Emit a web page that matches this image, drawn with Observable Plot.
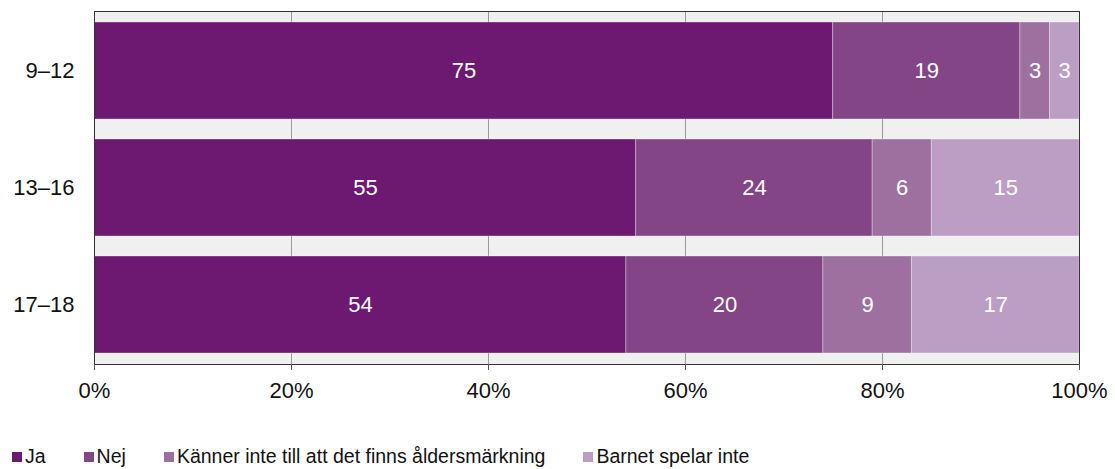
<!DOCTYPE html>
<html>
<head>
<meta charset="utf-8">
<script src="https://cdn.jsdelivr.net/npm/d3@7"></script>
<script src="https://cdn.jsdelivr.net/npm/@observablehq/plot@0.6"></script>
<style>
  html, body { margin: 0; padding: 0; background: #fff; }
  body { width: 1115px; height: 469px; position: relative; font-family: Helvetica, Arial, "Liberation Sans", sans-serif; overflow: hidden; }
  #chart { position: absolute; left: 0; top: 0; }
  #legend { position: absolute; left: 12px; top: 445px; display: flex; align-items: center; font-size: 19.5px; color: #111; white-space: nowrap; }
  .item { display: flex; align-items: center; margin-right: 38px; }
  .sw { width: 10px; height: 10px; margin-right: 3px; display: inline-block; }
</style>
</head>
<body>
<div id="chart"></div>
<div id="legend"></div>
<script>
const ages = ["9–12", "13–16", "17–18"];
const series = ["Ja", "Nej", "Känner inte till att det finns åldersmärkning", "Barnet spelar inte"];
const colors = ["#6d1972", "#844587", "#9d70a0", "#bc9dc4"];
const ja = [75, 55, 54];
const nej = [19, 24, 20];
const kanner = [3, 6, 9];
const barnet = [3, 15, 17];
const xTicks = [0, 20, 40, 60, 80, 100];

const valuesBySeries = [ja, nej, kanner, barnet];
const data = [];
ages.forEach((age, i) => {
  series.forEach((s, j) => {
    data.push({age, series: s, value: valuesBySeries[j][i]});
  });
});

const font = "Helvetica, Arial, 'Liberation Sans', sans-serif";

const chart = Plot.plot({
  width: 1115,
  height: 430,
  marginLeft: 94,
  marginRight: 36,
  marginTop: 11,
  marginBottom: 66,
  style: {fontFamily: font, fontSize: "22px", color: "#111", background: "transparent", overflow: "visible"},
  x: {domain: [0, 100]},
  y: {domain: ages, padding: 0.167, paddingOuter: 0.083},
  color: {domain: series, range: colors},
  marks: [
    Plot.frame({fill: "#f0f0f0", stroke: null}),
    Plot.gridX({ticks: [20, 40, 60, 80], stroke: "#999", strokeOpacity: 1, strokeWidth: 1}),
    Plot.barX(data, Plot.stackX({x: "value", y: "age", fill: "series", order: series, stroke: "#fff", strokeOpacity: 0.45, strokeWidth: 0.75})),
    Plot.text(data, Plot.stackX({x: "value", y: "age", z: "series", order: series, text: d => String(d.value), fill: "white", fontSize: 22})),
    Plot.frame({stroke: "#333", strokeWidth: 1}),
    Plot.axisX({ticks: xTicks, tickSize: 6, tickPadding: 12, tickFormat: d => d + "%", stroke: "#555", fontSize: 22, fill: "#111", label: null}),
    Plot.axisY({tickSize: 0, tickPadding: 20, fontSize: 22, fill: "#111", label: null})
  ]
});
document.getElementById("chart").appendChild(chart);

const legend = document.getElementById("legend");
series.forEach((s, j) => {
  const item = document.createElement("div");
  item.className = "item";
  const sw = document.createElement("span");
  sw.className = "sw";
  sw.style.background = colors[j];
  const label = document.createElement("span");
  label.textContent = s;
  item.appendChild(sw);
  item.appendChild(label);
  legend.appendChild(item);
});
</script>
</body>
</html>
